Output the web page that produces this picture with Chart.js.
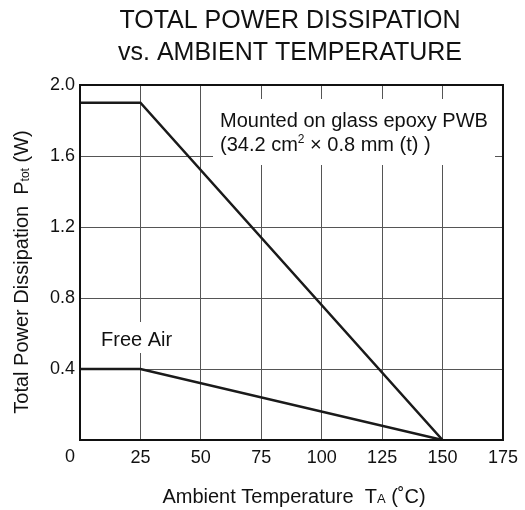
<!DOCTYPE html>
<html>
<head>
<meta charset="utf-8">
<script src="https://cdn.jsdelivr.net/npm/chart.js@4.4.1/dist/chart.umd.min.js"></script>
<style>
  html, body { margin: 0; padding: 0; background: #fff; }
  #wrap { width: 525px; height: 510px; }
</style>
</head>
<body>
<div id="wrap"><canvas id="powerChart" width="525" height="510"></canvas></div>
<script>
// derating curves
var tempPoints = [0, 25, 150];          // ambient temperature, degC
var pwbPower = [1.9, 1.9, 0];           // mounted on glass epoxy PWB, W
var freeAirPower = [0.4, 0.4, 0];       // free air, W
var xTicks = [0, 25, 50, 75, 100, 125, 150, 175];
var yTicks = [0, 0.4, 0.8, 1.2, 1.6, 2.0];

var FONT = '"Liberation Sans", Arial, sans-serif';
var INK = '#111';

function toPoints(xs, ys) {
    return xs.map(function (x, i) { return { x: x, y: ys[i] }; });
}

// draws a row of text pieces (for sub/superscripts), x is the anchor
function drawRich(ctx, segs, x, y, align) {
    var total = 0;
    segs.forEach(function (s) {
        ctx.font = s.size + 'px ' + FONT;
        s.w = ctx.measureText(s.t).width;
        total += s.w;
    });
    var cx = align === 'center' ? x - total / 2 : x;
    segs.forEach(function (s) {
        ctx.font = s.size + 'px ' + FONT;
        ctx.fillText(s.t, cx, y + (s.dy || 0));
        cx += s.w;
    });
}

var textPlugin = {
    id: 'datasheetText',
    beforeDatasetsDraw: function (chart) {
        var ctx = chart.ctx;
        ctx.save();
        ctx.fillStyle = '#fff';
        // white boxes under the notes hide the grid
        ctx.fillRect(213, 99, 282, 66);
        ctx.fillRect(95, 322, 85, 31);
        ctx.restore();
    },
    afterDraw: function (chart) {
        var ctx = chart.ctx;
        var a = chart.chartArea;
        var xs = chart.scales.x;
        ctx.save();
        // frame
        ctx.strokeStyle = INK;
        ctx.lineWidth = 2;
        ctx.strokeRect(a.left, a.top, a.right - a.left, a.bottom - a.top);

        ctx.fillStyle = INK;
        ctx.textBaseline = 'alphabetic';
        ctx.textAlign = 'left';

        // shared origin label sits below-left of the corner
        drawRich(ctx, [{ t: '0', size: 18 }], xs.getPixelForValue(0) - 10, a.bottom + 22, 'center');

        // title
        drawRich(ctx, [{ t: 'TOTAL POWER DISSIPATION', size: 25 }], 290, 28, 'center');
        drawRich(ctx, [{ t: 'vs. AMBIENT TEMPERATURE', size: 25 }], 290, 60, 'center');

        // x axis title
        drawRich(ctx, [
            { t: 'Ambient Temperature  T', size: 20 },
            { t: 'A', size: 13 },
            { t: ' (\u02DAC)', size: 20 }
        ], 294, 503, 'center');

        // y axis title
        ctx.save();
        ctx.translate(28, 272);
        ctx.rotate(-Math.PI / 2);
        drawRich(ctx, [
            { t: 'Total Power Dissipation  P', size: 20 },
            { t: 'tot', size: 12, dy: 1 },
            { t: ' (W)', size: 20 }
        ], 0, 0, 'center');
        ctx.restore();

        // notes
        drawRich(ctx, [{ t: 'Mounted on glass epoxy PWB', size: 20 }], 220, 127, 'left');
        drawRich(ctx, [
            { t: '(34.2 cm', size: 20 },
            { t: '2', size: 12, dy: -8 },
            { t: ' \u00D7 0.8 mm (t) )', size: 20 }
        ], 220, 151, 'left');
        drawRich(ctx, [{ t: 'Free Air', size: 20 }], 101, 346, 'left');
        ctx.restore();
    }
};

var ctx = document.getElementById('powerChart').getContext('2d');
new Chart(ctx, {
    type: 'scatter',
    data: {
        datasets: [{
            label: 'PWB',
            data: toPoints(tempPoints, pwbPower),
            showLine: true,
            borderColor: '#1a1a1a',
            borderWidth: 2.5,
            pointRadius: 0,
            tension: 0
        }, {
            label: 'Free Air',
            data: toPoints(tempPoints, freeAirPower),
            showLine: true,
            borderColor: '#1a1a1a',
            borderWidth: 2.5,
            pointRadius: 0,
            tension: 0
        }]
    },
    options: {
        responsive: false,
        animation: false,
        layout: { padding: { top: 85, right: 19, left: 0, bottom: 0 } },
        plugins: {
            legend: { display: false },
            title: { display: false },
            tooltip: { enabled: false }
        },
        scales: {
            x: {
                type: 'linear',
                min: 0,
                max: 175,
                afterBuildTicks: function (s) {
                    s.ticks = xTicks.map(function (v) { return { value: v }; });
                },
                ticks: {
                    color: INK,
                    font: { family: FONT, size: 18 },
                    padding: 7,
                    maxRotation: 0,
                    autoSkip: false,
                    // the origin "0" is drawn by the plugin, offset to the left
                    callback: function (v) { return v === 0 ? '' : String(v); }
                },
                grid: { color: '#555', lineWidth: 1, drawTicks: false },
                border: { display: false },
                afterFit: function (s) { s.height = 70; }
            },
            y: {
                min: 0,
                max: 2,
                afterBuildTicks: function (s) {
                    s.ticks = yTicks.map(function (v) { return { value: v }; });
                },
                ticks: {
                    color: INK,
                    font: { family: FONT, size: 18 },
                    padding: 5,
                    autoSkip: false,
                    callback: function (v) { return v === 0 ? '' : v.toFixed(1); }
                },
                grid: { color: '#555', lineWidth: 1, drawTicks: false },
                border: { display: false },
                afterFit: function (s) { s.width = 80; }
            }
        }
    },
    plugins: [textPlugin]
});
</script>
</body>
</html>
